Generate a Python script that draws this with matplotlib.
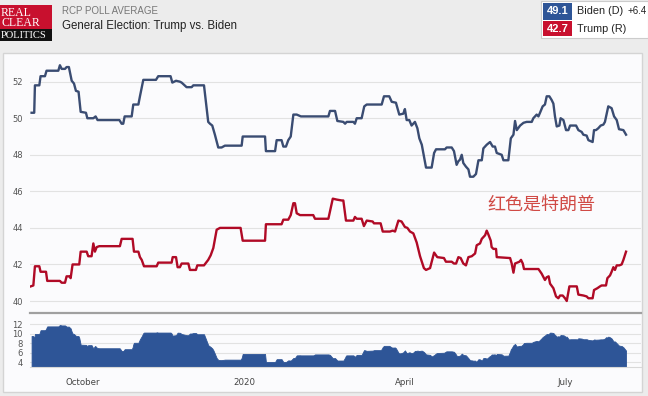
import numpy as np
import matplotlib.pyplot as plt
from matplotlib.patches import Rectangle

# days counted from 1 Oct 2019
biden_day = [-29.2, -27.7, -27.3, -24.8, -24.1, -21.6, -20.7, -14.0, -13.1, -12.1, -10.2, -9.3, -8.0,
             -6.4, -5.1, -4.0, -2.5, -1.3, 1.7, 2.5, 5.9, 7.2, 8.3, 20.7, 22.0, 22.9, 23.7, 27.7, 28.6,
             31.5, 32.4, 34.3, 41.5, 42.8, 49.8, 50.8, 52.9, 55.1, 56.1, 58.9, 61.8, 62.7, 68.8, 69.9,
             71.2, 72.2, 73.5, 75.0, 76.9, 78.8, 80.7, 90.2, 90.8, 103.5, 104.0, 109.2, 110.1, 112.9,
             113.9, 115.4, 116.7, 118.1, 119.6, 121.5, 123.9, 139.5, 140.4, 143.3, 144.6, 148.0, 149.0,
             149.9, 153.7, 154.6, 155.6, 158.4, 159.9, 161.3, 169.8, 171.1, 174.1, 175.5, 177.9, 179.8,
             182.1, 183.0, 184.0, 185.5, 186.8, 188.7, 190.1, 191.2, 192.6, 195.0, 198.2, 199.6, 200.7,
             205.8, 206.7, 209.6, 210.9, 212.4, 213.4, 214.3, 215.3, 216.2, 217.7, 219.1, 220.0, 221.9,
             223.4, 224.8, 226.7, 227.6, 229.5, 231.4, 232.9, 234.2, 235.2, 238.0, 239.0, 241.8, 243.2,
             244.7, 245.6, 246.6, 248.5, 250.4, 252.2, 255.1, 256.0, 257.9, 258.9, 259.8, 261.3, 262.6,
             263.6, 265.1, 266.4, 267.4, 268.3, 269.3, 270.8, 271.5, 273.1, 274.6, 275.9, 276.9, 280.3,
             281.6, 283.5, 284.4, 286.3, 287.3, 289.7, 290.5, 291.6, 292.9, 294.3, 295.8, 296.7, 298.6,
             300.5, 301.9, 303.4, 304.7, 307.2, 308.1, 308.7]
biden_val = [50.3, 50.3, 51.8, 51.8, 52.3, 52.3, 52.6, 52.6, 52.9, 52.7, 52.7, 52.8, 52.8,
             52.05, 51.9, 51.5, 51.45, 50.35, 50.3, 50.0, 50.0, 50.1, 49.9, 49.9, 49.7, 49.7, 50.1, 50.1, 50.75,
             50.75, 51.2, 52.1, 52.1, 52.3, 52.3, 51.95, 52.05, 52.0, 51.95, 51.7, 51.7, 51.8, 51.8, 50.9,
             49.8, 49.7, 49.6, 49.1, 48.4, 48.4, 48.5, 48.5, 49.0, 49.0, 48.2, 48.2, 48.8, 48.8,
             48.45, 48.45, 48.8, 49.0, 50.2, 50.2, 50.1, 50.1, 50.4, 50.4, 49.85, 49.8, 49.7,
             49.8, 49.8, 49.7, 50.0, 50.0, 50.65, 50.75, 50.75, 51.2, 51.2, 50.9, 50.85, 50.2,
             50.25, 50.5, 49.9, 49.9, 49.6, 49.8, 49.45, 48.9, 48.55, 47.3, 47.3, 48.1, 48.3,
             48.3, 48.4, 48.4, 48.2, 47.45, 47.65, 47.73, 48.0, 47.55, 47.35, 47.2, 46.8, 46.8,
             46.95, 47.7, 47.7, 48.35, 48.55, 48.7, 48.45, 48.45, 48.1, 48.0, 47.7, 47.7, 48.9,
             49.1, 49.85, 49.35, 49.6, 49.75, 49.8, 49.8, 50.0, 50.2, 50.1, 50.3, 50.65, 50.75,
             51.2, 51.2, 51.0, 50.8, 50.1, 49.55, 49.6, 50.0, 49.9, 49.35, 49.35, 49.6, 49.6,
             49.35, 49.25, 49.1, 49.05, 48.8, 48.7, 49.35, 49.35, 49.45, 49.6, 49.65, 49.8, 50.65,
             50.55, 50.1, 49.9, 49.4, 49.35, 49.2, 49.1]

trump_day = [-29.7, -28.2, -27.3, -24.8, -24.1, -21.0, -20.3, -13.1, -12.1, -10.2, -9.3, -7.8, -7.0,
             -5.9, -2.1, -1.3, 2.1, 3.0, 4.9, 5.9, 6.8, 7.8, 9.3, 21.0, 22.0, 28.2, 29.0, 31.5, 32.4,
             33.4, 34.7, 41.9, 42.8, 50.4, 51.0, 52.9, 53.8, 55.1, 56.1, 59.9, 60.8, 64.2, 65.0, 68.8,
             71.2, 72.6, 74.1, 76.0, 77.9, 89.6, 90.8, 103.5, 104.0, 112.9, 113.9, 116.7, 118.1, 119.6,
             120.5, 121.5, 123.4, 130.9, 131.9, 139.5, 142.0, 144.2, 147.1, 148.0, 149.5, 153.7, 154.6,
             155.6, 158.4, 159.7, 161.3, 164.7, 165.4, 169.2, 170.4, 174.5, 176.1, 177.4, 179.3, 181.1,
             183.0, 184.4, 185.9, 187.8, 189.7, 191.6, 193.8, 195.0, 197.3, 199.6, 201.4, 205.2, 206.3,
             209.6, 210.9, 212.1, 213.4, 214.7, 216.2, 217.7, 219.1, 221.0, 222.9, 223.8, 225.7, 226.7,
             228.6, 229.5, 230.4, 231.8, 232.3, 233.3, 234.8, 235.2, 242.8, 243.7, 244.7, 245.6, 246.9,
             248.1, 249.0, 250.0, 250.7, 258.9, 260.7, 262.6, 263.6, 264.7, 265.5, 267.4, 268.9, 270.2,
             271.2, 272.7, 274.0, 275.0, 276.5, 279.7, 280.7, 281.6, 284.5, 286.3, 287.3, 289.7, 290.5,
             292.4, 293.9, 294.8, 297.3, 298.1, 299.6, 300.5, 301.5, 302.4, 303.4, 304.9, 306.2, 307.2,
             308.7]
trump_val = [40.8, 40.85, 41.9, 41.9, 41.6, 41.6, 41.1, 41.1, 41.0, 41.0, 41.35, 41.35, 41.25,
             42.0, 42.0, 42.7, 42.7, 42.45, 42.45, 43.15, 42.7, 42.95, 43.0, 43.0, 43.4, 43.4, 42.7, 42.7, 42.4,
             42.25, 41.9, 41.9, 42.1, 42.1, 42.4, 42.4, 41.85, 41.85, 42.05, 42.05, 41.7, 41.7, 41.95, 41.95,
             42.25, 42.5, 42.9, 43.9, 44.0, 44.0, 43.3, 43.3, 44.2, 44.2, 44.45, 44.45, 44.7, 45.35,
             45.35, 44.8, 44.7, 44.7, 44.5, 44.5, 45.6, 45.55, 45.5, 45.5, 44.4, 44.4, 44.6,
             44.5, 44.5, 44.1, 44.4, 44.35, 44.25, 44.25, 43.8, 43.8, 43.85, 43.8, 44.4, 44.35,
             44.05, 44.0, 43.8, 43.7, 43.2, 42.45, 41.8, 41.7, 41.8, 42.65, 42.4, 42.35, 42.15,
             42.15, 42.05, 42.05, 42.4, 42.35, 42.05, 41.95, 42.4, 42.45, 42.6, 43.05, 43.15, 43.4,
             43.6, 43.85, 43.65, 43.3, 42.95, 42.85, 42.85, 42.4, 42.35, 42.05, 41.55, 42.05, 42.1,
             42.15, 42.25, 42.05, 41.75, 41.75, 41.5, 41.15, 41.3, 41.35, 40.95, 40.7, 40.25, 40.15,
             40.3, 40.3, 40.15, 40.0, 40.8, 40.8, 40.8, 40.35, 40.3, 40.25, 40.15, 40.15, 40.6,
             40.7, 40.8, 40.85, 40.85, 41.25, 41.4, 41.6, 41.85, 41.7, 41.95, 41.95, 42.0, 42.25,
             42.7]

tick_days = [0, 92, 183, 274]
tick_labels = ['October', '2020', 'April', 'July']
main_ticks = [40, 42, 44, 46, 48, 50, 52]
spread_ticks = [4, 6, 8, 10, 12]

biden_last, trump_last = 49.1, 42.7

BLUE_LINE = '#3a4c72'
RED_LINE = '#b00a26'
BLUE = '#2e5597'
RED = '#c8102e'

W, H = 648, 396
def fx(x):
    return x / W
def fy(y):
    return 1 - y / H

fig = plt.figure(figsize=(6.48, 3.96), dpi=100, facecolor='#ececec')

# chart panel (behind the axes)
fig.patches.append(Rectangle((fx(3), fy(392)), fx(639), 339 / H, transform=fig.transFigure,
                             facecolor='#fbfbfd', edgecolor='#d4d4d4', lw=1, zorder=-5))

# logo
fig.patches.append(Rectangle((0, fy(29)), fx(52), 24 / H, transform=fig.transFigure,
                             facecolor='#c8102e', lw=0))
fig.patches.append(Rectangle((0, fy(41)), fx(52), 12 / H, transform=fig.transFigure,
                             facecolor='#111111', lw=0))
fig.text(fx(1), fy(13), 'REAL', color='white', fontsize=8.5, family='Liberation Serif', va='center')
fig.text(fx(1), fy(23.5), 'CLEAR', color='white', fontsize=8.5, family='Liberation Serif', va='center')
fig.text(fx(0.5), fy(35), 'POLITICS', color='white', fontsize=7.6, family='Liberation Serif', va='center')

fig.text(fx(62), fy(11), 'RCP POLL AVERAGE', color='#777777', fontsize=7,
         family='Liberation Sans', va='center')
fig.text(fx(62), fy(26), 'General Election: Trump vs. Biden', color='#222222', fontsize=8.3,
         family='Liberation Sans', va='center')

# legend box
fig.patches.append(Rectangle((fx(541), fy(38)), fx(107), 37 / H, transform=fig.transFigure,
                             facecolor='white', edgecolor='#cccccc', lw=0.8))
fig.patches.append(Rectangle((fx(543), fy(19.5)), fx(29), 16.5 / H, transform=fig.transFigure,
                             facecolor=BLUE, lw=0))
fig.patches.append(Rectangle((fx(543), fy(36)), fx(29), 15.5 / H, transform=fig.transFigure,
                             facecolor=RED, lw=0))
fig.text(fx(557.5), fy(11.5), f'{biden_last:.1f}', color='white', fontsize=8, weight='bold',
         family='Liberation Sans', ha='center', va='center')
fig.text(fx(557.5), fy(28.5), f'{trump_last:.1f}', color='white', fontsize=8, weight='bold',
         family='Liberation Sans', ha='center', va='center')
fig.text(fx(577), fy(11.5), 'Biden (D)', color='#222222', fontsize=7.8, family='Liberation Sans', va='center')
fig.text(fx(647), fy(11.5), f'+{biden_last - trump_last:.1f}', color='#222222', fontsize=7,
         family='Liberation Sans', va='center', ha='right')
fig.text(fx(577), fy(28.5), 'Trump (R)', color='#222222', fontsize=7.8, family='Liberation Sans', va='center')

xlim = (-30.1, 317.2)

# main chart
ax = fig.add_axes([fx(30), fy(312.7), fx(611), (312.7 - 55) / H])
ax.set_facecolor('none')
ax.plot(biden_day, biden_val, color=BLUE_LINE, lw=1.7, solid_joinstyle='round')
ax.plot(trump_day, trump_val, color=RED_LINE, lw=1.7, solid_joinstyle='round')
ax.set_xlim(*xlim)
ax.set_ylim(39.36, 53.46)
ax.set_yticks(main_ticks)
ax.set_xticks([])
ax.grid(axis='y', color='#e2e2e2', lw=0.8)
ax.set_axisbelow(True)
for s in ['top', 'right', 'left']:
    ax.spines[s].set_visible(False)
ax.spines['bottom'].set_color('#a0a0a0')
ax.spines['bottom'].set_linewidth(1.6)
ax.tick_params(axis='y', length=0, pad=5, labelsize=6, labelcolor='#555555')

ax.text(0.748, 0.415, '红色是特朗普', transform=ax.transAxes, color='#d04a45', fontsize=13,
        family=['Noto Sans CJK SC', 'DejaVu Sans'], ha='left', va='center')

# spread panel
grid = np.union1d(biden_day, trump_day)
grid = grid[(grid >= biden_day[0]) & (grid <= biden_day[-1])]
spread = np.interp(grid, biden_day, biden_val) - np.interp(grid, trump_day, trump_val)

ax2 = fig.add_axes([fx(30), fy(367), fx(611), (367 - 312.7) / H])
ax2.set_facecolor('none')
ax2.fill_between(grid, spread, 2.9, color=BLUE, lw=0.6, edgecolor=BLUE)
ax2.set_xlim(*xlim)
ax2.set_ylim(2.95, 14.38)
ax2.set_yticks(spread_ticks)
ax2.set_xticks(tick_days)
ax2.set_xticklabels(tick_labels)
ax2.grid(axis='y', color='#e2e2e2', lw=0.8)
ax2.set_axisbelow(True)
for s in ['top', 'right', 'left']:
    ax2.spines[s].set_visible(False)
ax2.spines['bottom'].set_color('#d8d8d8')
ax2.tick_params(axis='y', length=0, pad=5, labelsize=6, labelcolor='#555555')
ax2.tick_params(axis='x', length=0, pad=8, labelsize=6.2, labelcolor='#444444')

fig.savefig('out.png', dpi=100, facecolor=fig.get_facecolor())
